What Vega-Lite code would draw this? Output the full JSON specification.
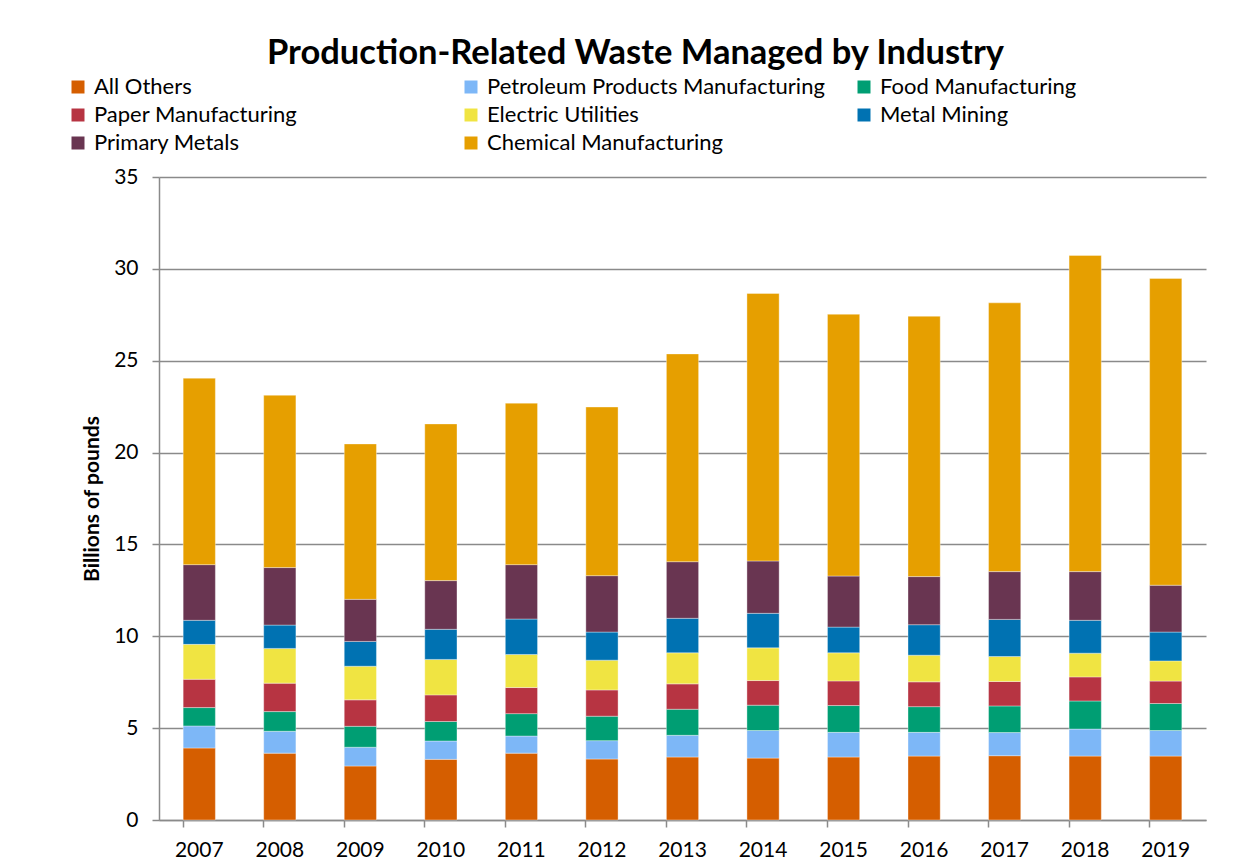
{
  "$schema": "https://vega.github.io/schema/vega-lite/v6.json",
  "autosize": {"type": "none"},
  "padding": {"left": 159, "top": 177, "right": 42, "bottom": 47},
  "width": 1047,
  "height": 643,
  "background": "#ffffff",
  "title": {
    "text": "Production-Related Waste Managed by Industry",
    "font": "Lato",
    "fontSize": 34.5,
    "fontWeight": "bold",
    "color": "#000000",
    "anchor": "middle",
    "dx": -47,
    "offset": 5
  },
  "data": {
    "values": [
      {"year": "2007", "industry": "All Others", "value": 3.92},
      {"year": "2007", "industry": "Petroleum Products Manufacturing", "value": 1.20},
      {"year": "2007", "industry": "Food Manufacturing", "value": 1.00},
      {"year": "2007", "industry": "Paper Manufacturing", "value": 1.54},
      {"year": "2007", "industry": "Electric Utilities", "value": 1.90},
      {"year": "2007", "industry": "Metal Mining", "value": 1.31},
      {"year": "2007", "industry": "Primary Metals", "value": 3.03},
      {"year": "2007", "industry": "Chemical Manufacturing", "value": 10.15},
      {"year": "2008", "industry": "All Others", "value": 3.64},
      {"year": "2008", "industry": "Petroleum Products Manufacturing", "value": 1.19},
      {"year": "2008", "industry": "Food Manufacturing", "value": 1.07},
      {"year": "2008", "industry": "Paper Manufacturing", "value": 1.55},
      {"year": "2008", "industry": "Electric Utilities", "value": 1.89},
      {"year": "2008", "industry": "Metal Mining", "value": 1.27},
      {"year": "2008", "industry": "Primary Metals", "value": 3.13},
      {"year": "2008", "industry": "Chemical Manufacturing", "value": 9.38},
      {"year": "2009", "industry": "All Others", "value": 2.94},
      {"year": "2009", "industry": "Petroleum Products Manufacturing", "value": 1.02},
      {"year": "2009", "industry": "Food Manufacturing", "value": 1.14},
      {"year": "2009", "industry": "Paper Manufacturing", "value": 1.44},
      {"year": "2009", "industry": "Electric Utilities", "value": 1.83},
      {"year": "2009", "industry": "Metal Mining", "value": 1.35},
      {"year": "2009", "industry": "Primary Metals", "value": 2.29},
      {"year": "2009", "industry": "Chemical Manufacturing", "value": 8.46},
      {"year": "2010", "industry": "All Others", "value": 3.30},
      {"year": "2010", "industry": "Petroleum Products Manufacturing", "value": 1.00},
      {"year": "2010", "industry": "Food Manufacturing", "value": 1.06},
      {"year": "2010", "industry": "Paper Manufacturing", "value": 1.45},
      {"year": "2010", "industry": "Electric Utilities", "value": 1.93},
      {"year": "2010", "industry": "Metal Mining", "value": 1.64},
      {"year": "2010", "industry": "Primary Metals", "value": 2.65},
      {"year": "2010", "industry": "Chemical Manufacturing", "value": 8.53},
      {"year": "2011", "industry": "All Others", "value": 3.64},
      {"year": "2011", "industry": "Petroleum Products Manufacturing", "value": 0.93},
      {"year": "2011", "industry": "Food Manufacturing", "value": 1.22},
      {"year": "2011", "industry": "Paper Manufacturing", "value": 1.42},
      {"year": "2011", "industry": "Electric Utilities", "value": 1.80},
      {"year": "2011", "industry": "Metal Mining", "value": 1.93},
      {"year": "2011", "industry": "Primary Metals", "value": 2.96},
      {"year": "2011", "industry": "Chemical Manufacturing", "value": 8.79},
      {"year": "2012", "industry": "All Others", "value": 3.32},
      {"year": "2012", "industry": "Petroleum Products Manufacturing", "value": 1.00},
      {"year": "2012", "industry": "Food Manufacturing", "value": 1.33},
      {"year": "2012", "industry": "Paper Manufacturing", "value": 1.43},
      {"year": "2012", "industry": "Electric Utilities", "value": 1.62},
      {"year": "2012", "industry": "Metal Mining", "value": 1.53},
      {"year": "2012", "industry": "Primary Metals", "value": 3.07},
      {"year": "2012", "industry": "Chemical Manufacturing", "value": 9.18},
      {"year": "2013", "industry": "All Others", "value": 3.43},
      {"year": "2013", "industry": "Petroleum Products Manufacturing", "value": 1.18},
      {"year": "2013", "industry": "Food Manufacturing", "value": 1.42},
      {"year": "2013", "industry": "Paper Manufacturing", "value": 1.38},
      {"year": "2013", "industry": "Electric Utilities", "value": 1.69},
      {"year": "2013", "industry": "Metal Mining", "value": 1.88},
      {"year": "2013", "industry": "Primary Metals", "value": 3.08},
      {"year": "2013", "industry": "Chemical Manufacturing", "value": 11.31},
      {"year": "2014", "industry": "All Others", "value": 3.37},
      {"year": "2014", "industry": "Petroleum Products Manufacturing", "value": 1.50},
      {"year": "2014", "industry": "Food Manufacturing", "value": 1.38},
      {"year": "2014", "industry": "Paper Manufacturing", "value": 1.34},
      {"year": "2014", "industry": "Electric Utilities", "value": 1.78},
      {"year": "2014", "industry": "Metal Mining", "value": 1.88},
      {"year": "2014", "industry": "Primary Metals", "value": 2.85},
      {"year": "2014", "industry": "Chemical Manufacturing", "value": 14.56},
      {"year": "2015", "industry": "All Others", "value": 3.43},
      {"year": "2015", "industry": "Petroleum Products Manufacturing", "value": 1.34},
      {"year": "2015", "industry": "Food Manufacturing", "value": 1.46},
      {"year": "2015", "industry": "Paper Manufacturing", "value": 1.34},
      {"year": "2015", "industry": "Electric Utilities", "value": 1.53},
      {"year": "2015", "industry": "Metal Mining", "value": 1.40},
      {"year": "2015", "industry": "Primary Metals", "value": 2.78},
      {"year": "2015", "industry": "Chemical Manufacturing", "value": 14.25},
      {"year": "2016", "industry": "All Others", "value": 3.48},
      {"year": "2016", "industry": "Petroleum Products Manufacturing", "value": 1.29},
      {"year": "2016", "industry": "Food Manufacturing", "value": 1.40},
      {"year": "2016", "industry": "Paper Manufacturing", "value": 1.35},
      {"year": "2016", "industry": "Electric Utilities", "value": 1.45},
      {"year": "2016", "industry": "Metal Mining", "value": 1.66},
      {"year": "2016", "industry": "Primary Metals", "value": 2.62},
      {"year": "2016", "industry": "Chemical Manufacturing", "value": 14.17},
      {"year": "2017", "industry": "All Others", "value": 3.50},
      {"year": "2017", "industry": "Petroleum Products Manufacturing", "value": 1.26},
      {"year": "2017", "industry": "Food Manufacturing", "value": 1.45},
      {"year": "2017", "industry": "Paper Manufacturing", "value": 1.33},
      {"year": "2017", "industry": "Electric Utilities", "value": 1.36},
      {"year": "2017", "industry": "Metal Mining", "value": 2.02},
      {"year": "2017", "industry": "Primary Metals", "value": 2.60},
      {"year": "2017", "industry": "Chemical Manufacturing", "value": 14.63},
      {"year": "2018", "industry": "All Others", "value": 3.48},
      {"year": "2018", "industry": "Petroleum Products Manufacturing", "value": 1.47},
      {"year": "2018", "industry": "Food Manufacturing", "value": 1.53},
      {"year": "2018", "industry": "Paper Manufacturing", "value": 1.31},
      {"year": "2018", "industry": "Electric Utilities", "value": 1.29},
      {"year": "2018", "industry": "Metal Mining", "value": 1.79},
      {"year": "2018", "industry": "Primary Metals", "value": 2.65},
      {"year": "2018", "industry": "Chemical Manufacturing", "value": 17.21},
      {"year": "2019", "industry": "All Others", "value": 3.48},
      {"year": "2019", "industry": "Petroleum Products Manufacturing", "value": 1.39},
      {"year": "2019", "industry": "Food Manufacturing", "value": 1.47},
      {"year": "2019", "industry": "Paper Manufacturing", "value": 1.22},
      {"year": "2019", "industry": "Electric Utilities", "value": 1.10},
      {"year": "2019", "industry": "Metal Mining", "value": 1.57},
      {"year": "2019", "industry": "Primary Metals", "value": 2.55},
      {"year": "2019", "industry": "Chemical Manufacturing", "value": 16.70}
    ]
  },
  "transform": [
    {"calculate": "indexof(['All Others', 'Petroleum Products Manufacturing', 'Food Manufacturing', 'Paper Manufacturing', 'Electric Utilities', 'Metal Mining', 'Primary Metals', 'Chemical Manufacturing'], datum.industry)", "as": "stackRank"}
  ],
  "mark": {"type": "bar", "stroke": "#ffffff", "strokeWidth": 0.6, "strokeOpacity": 0.6},
  "encoding": {
    "x": {
      "field": "year",
      "type": "ordinal",
      "scale": {"paddingInner": 0.6, "paddingOuter": 0.3},
      "axis": {
        "title": null,
        "labelAngle": 0,
        "labelFont": "Lato",
        "labelFontSize": 21,
        "labelColor": "#000000",
        "labelPadding": 12,
        "bandPosition": 0,
        "tickColor": "#8a8a8a",
        "tickWidth": 1.5,
        "tickSize": 7,
        "domainColor": "#8a8a8a",
        "domainWidth": 1.5,
        "grid": false
      }
    },
    "y": {
      "field": "value",
      "type": "quantitative",
      "stack": "zero",
      "scale": {"domain": [0, 35], "nice": false},
      "axis": {
        "title": "Billions of pounds",
        "titleFont": "Lato",
        "titleFontSize": 21,
        "titleFontWeight": "bold",
        "titleColor": "#000000",
        "titlePadding": 11,
        "values": [0, 5, 10, 15, 20, 25, 30, 35],
        "labelFont": "Lato",
        "labelFontSize": 21,
        "labelColor": "#000000",
        "labelPadding": 14,
        "tickColor": "#8a8a8a",
        "tickWidth": 1.5,
        "tickSize": 7,
        "domainColor": "#8a8a8a",
        "domainWidth": 1.5,
        "grid": true,
        "gridColor": "#8a8a8a",
        "gridWidth": 1.5
      }
    },
    "color": {
      "field": "industry",
      "type": "nominal",
      "sort": ["All Others", "Petroleum Products Manufacturing", "Food Manufacturing", "Paper Manufacturing", "Electric Utilities", "Metal Mining", "Primary Metals", "Chemical Manufacturing"],
      "scale": {
        "domain": ["All Others", "Petroleum Products Manufacturing", "Food Manufacturing", "Paper Manufacturing", "Electric Utilities", "Metal Mining", "Primary Metals", "Chemical Manufacturing"],
        "range": ["#D55E00", "#7DB7F7", "#009E73", "#B73442", "#F0E442", "#0072B2", "#693551", "#E69F00"]
      },
      "legend": {
        "title": null,
        "orient": "none",
        "legendX": -92,
        "legendY": -101,
        "direction": "horizontal",
        "columns": 3,
        "gridAlign": "all",
        "columnPadding": 28,
        "rowPadding": 6,
        "symbolType": "square",
        "symbolSize": 169,
        "symbolStrokeWidth": 0,
        "labelFont": "Lato",
        "labelFontSize": 22,
        "labelColor": "#000000",
        "labelOffset": 5,
        "labelLimit": 500
      }
    },
    "order": {"field": "stackRank", "type": "quantitative", "sort": "ascending"}
  },
  "config": {
    "view": {"stroke": null}
  }
}
